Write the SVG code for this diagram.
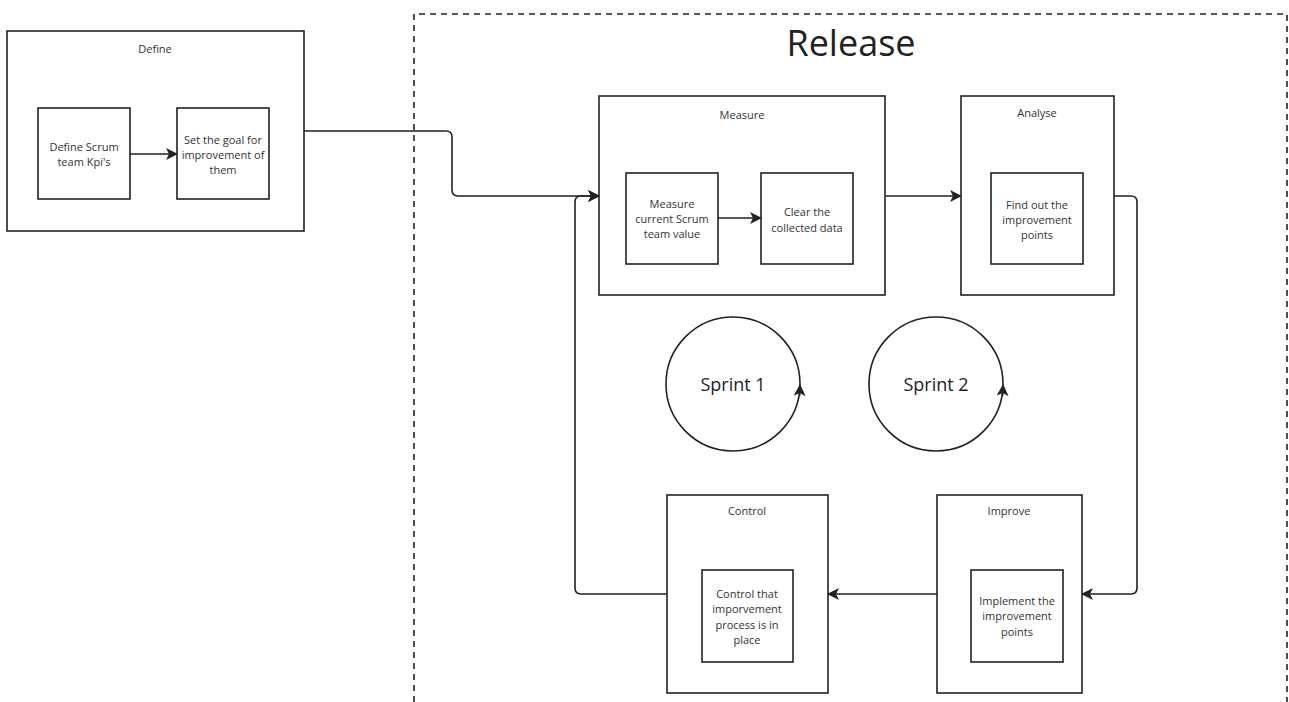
<svg xmlns="http://www.w3.org/2000/svg" width="1289" height="702" viewBox="0 0 1289 702">
<defs>
<marker id="ah" viewBox="0 0 12 12" refX="11" refY="6" markerWidth="12" markerHeight="12" markerUnits="userSpaceOnUse" orient="auto">
<path d="M0,0 L12,6 L0,12 L3,6 Z" fill="#222"/>
</marker>
</defs>
<style>
.box{fill:#fff;stroke:#222;stroke-width:1.6}
.ln{fill:none;stroke:#222;stroke-width:1.6}
.t{font-family:"Open Sans","Noto Sans","Liberation Sans",sans-serif;font-size:11px;fill:#333;text-anchor:middle;dominant-baseline:central}
.s{font-family:"Open Sans","Noto Sans","Liberation Sans",sans-serif;font-size:18px;fill:#222;text-anchor:middle;dominant-baseline:central}
</style>
<rect width="1289" height="702" fill="#fff"/>
<g id="release">
<path d="M414,702 L414,14 L1287,14 L1287,702" fill="none" stroke="#222" stroke-width="1.6" stroke-dasharray="6,5"/>
<text x="851" y="42" font-family="'Open Sans','Noto Sans','Liberation Sans',sans-serif" font-size="36" fill="#222" text-anchor="middle" dominant-baseline="central">Release</text>
</g>
<g id="define">
<rect class="box" x="7" y="31" width="297" height="200"/>
<text class="t" x="155" y="48">Define</text>
<rect class="box" x="38" y="108" width="92" height="91"/>
<text class="t" x="84" y="146">Define Scrum</text>
<text class="t" x="84" y="161">team Kpi's</text>
<rect class="box" x="177" y="108" width="92" height="91"/>
<text class="t" x="223" y="139">Set the goal for</text>
<text class="t" x="223" y="154">improvement of</text>
<text class="t" x="223" y="169">them</text>
</g>
<g id="measure">
<rect class="box" x="599" y="96" width="286" height="199"/>
<text class="t" x="742" y="114">Measure</text>
<rect class="box" x="626" y="173" width="92" height="91"/>
<text class="t" x="672" y="203">Measure</text>
<text class="t" x="672" y="218">current Scrum</text>
<text class="t" x="672" y="233">team value</text>
<rect class="box" x="761" y="173" width="92" height="91"/>
<text class="t" x="807" y="211">Clear the</text>
<text class="t" x="807" y="227">collected data</text>
</g>
<g id="analyse">
<rect class="box" x="961" y="96" width="153" height="199"/>
<text class="t" x="1037" y="112">Analyse</text>
<rect class="box" x="991" y="173" width="92" height="91"/>
<text class="t" x="1037" y="204">Find out the</text>
<text class="t" x="1037" y="219">improvement</text>
<text class="t" x="1037" y="234">points</text>
</g>
<g id="control">
<rect class="box" x="667" y="495" width="161" height="198"/>
<text class="t" x="747" y="510">Control</text>
<rect class="box" x="702" y="570" width="91" height="92"/>
<text class="t" x="747" y="593">Control that</text>
<text class="t" x="747" y="608">imporvement</text>
<text class="t" x="747" y="624">process is in</text>
<text class="t" x="747" y="639">place</text>
</g>
<g id="improve">
<rect class="box" x="937" y="495" width="145" height="198"/>
<text class="t" x="1009" y="510">Improve</text>
<rect class="box" x="971" y="570" width="92" height="92"/>
<text class="t" x="1017" y="600">Implement the</text>
<text class="t" x="1017" y="615">improvement</text>
<text class="t" x="1017" y="631">points</text>
</g>
<g id="sprint1">
<circle class="ln" cx="733" cy="384" r="67"/>
<path class="ln" d="M799.6,396 L800,385" marker-end="url(#ah)"/>
<text class="s" x="733" y="384">Sprint 1</text>
</g>
<g id="sprint2">
<circle class="ln" cx="936" cy="384" r="67"/>
<path class="ln" d="M1002.6,396 L1003,385" marker-end="url(#ah)"/>
<text class="s" x="936" y="384">Sprint 2</text>
</g>
<g id="connectors">
<path class="ln" d="M130,154 L177,154" marker-end="url(#ah)"/>
<path class="ln" d="M304,131 L446,131 Q452,131 452,137 L452,190 Q452,196 458,196 L599,196" marker-end="url(#ah)"/>
<path class="ln" d="M718,218 L761,218" marker-end="url(#ah)"/>
<path class="ln" d="M885,196 L961,196" marker-end="url(#ah)"/>
<path class="ln" d="M1114,196 L1131,196 Q1137,196 1137,202 L1137,588 Q1137,594 1131,594 L1082,594" marker-end="url(#ah)"/>
<path class="ln" d="M937,594 L828,594" marker-end="url(#ah)"/>
<path class="ln" d="M667,594 L581,594 Q575,594 575,588 L575,202 Q575,196 581,196 L599,196" marker-end="url(#ah)"/>
</g>
</svg>
